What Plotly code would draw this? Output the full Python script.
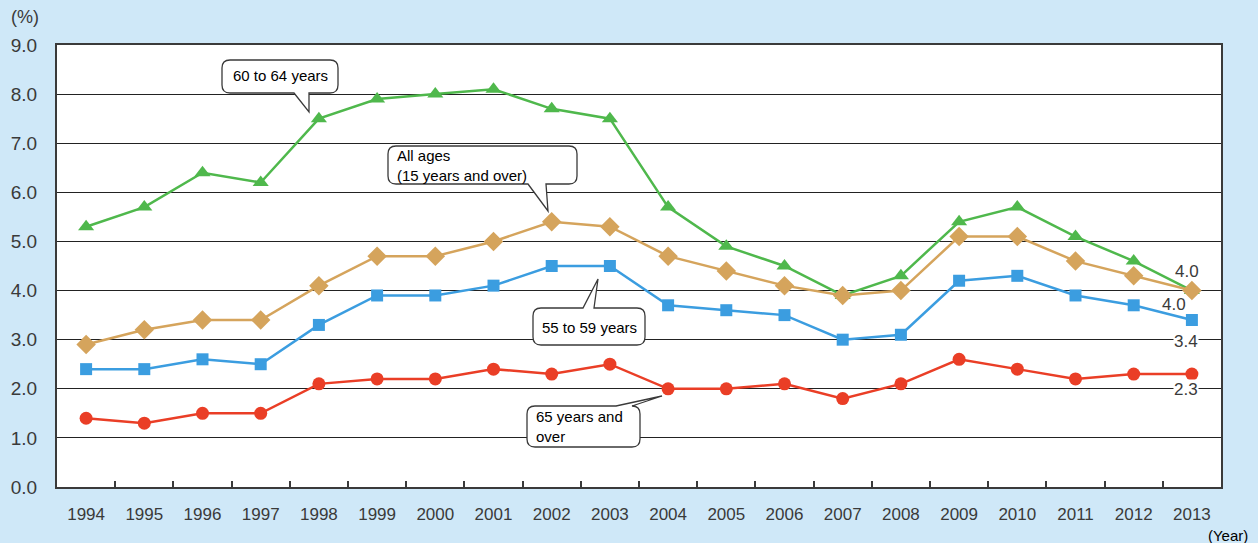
import plotly.graph_objects as go

years = list(range(1994, 2014))
age_60_64 = [5.3, 5.7, 6.4, 6.2, 7.5, 7.9, 8.0, 8.1, 7.7, 7.5, 5.7, 4.9, 4.5, 3.9, 4.3, 5.4, 5.7, 5.1, 4.6, 4.0]
all_ages = [2.9, 3.2, 3.4, 3.4, 4.1, 4.7, 4.7, 5.0, 5.4, 5.3, 4.7, 4.4, 4.1, 3.9, 4.0, 5.1, 5.1, 4.6, 4.3, 4.0]
age_55_59 = [2.4, 2.4, 2.6, 2.5, 3.3, 3.9, 3.9, 4.1, 4.5, 4.5, 3.7, 3.6, 3.5, 3.0, 3.1, 4.2, 4.3, 3.9, 3.7, 3.4]
age_65_over = [1.4, 1.3, 1.5, 1.5, 2.1, 2.2, 2.2, 2.4, 2.3, 2.5, 2.0, 2.0, 2.1, 1.8, 2.1, 2.6, 2.4, 2.2, 2.3, 2.3]
y_ticks = [0, 1, 2, 3, 4, 5, 6, 7, 8, 9]
y_tick_labels = ["0.0", "1.0", "2.0", "3.0", "4.0", "5.0", "6.0", "7.0", "8.0", "9.0"]

W, H = 1258, 543
L, R, T, B = 57, 1221, 45, 487
PW, PH = R - L, B - T

BG = "#cfe8f8"
INK = "#3a3a3a"
FONT = "Liberation Sans, Arial, sans-serif"

series = [
    ("60 to 64 years", age_60_64, "#4fb84c", "triangle-up", 14),
    ("All ages", all_ages, "#d5a45c", "diamond", 15),
    ("55 to 59 years", age_55_59, "#3b9de0", "square", 12),
    ("65 years and over", age_65_over, "#ea3e26", "circle", 13),
]

fig = go.Figure()
for name, vals, col, sym, sz in series:
    fig.add_trace(go.Scatter(
        x=years, y=vals, mode="lines+markers", name=name,
        line=dict(color=col, width=2.5),
        marker=dict(symbol=sym, size=sz, color=col),
        showlegend=False, cliponaxis=False,
    ))


def px2p(px, py):
    return (px - L) / PW, (B - py) / PH


def fmt(px, py):
    a, b = px2p(px, py)
    return f"{a:.5f},{b:.5f}"


def callout(x0, y0, x1, y1, side, t1, t2, tip, r=8):
    p = "M" + fmt(x0 + r, y0)
    if side == "top":
        p += " L" + fmt(t1, y0) + " L" + fmt(*tip) + " L" + fmt(t2, y0)
    p += " L" + fmt(x1 - r, y0) + " Q" + fmt(x1, y0) + " " + fmt(x1, y0 + r)
    p += " L" + fmt(x1, y1 - r) + " Q" + fmt(x1, y1) + " " + fmt(x1 - r, y1)
    if side == "bottom":
        p += " L" + fmt(t2, y1) + " L" + fmt(*tip) + " L" + fmt(t1, y1)
    p += " L" + fmt(x0 + r, y1) + " Q" + fmt(x0, y1) + " " + fmt(x0, y1 - r)
    p += " L" + fmt(x0, y0 + r) + " Q" + fmt(x0, y0) + " " + fmt(x0 + r, y0) + " Z"
    return dict(type="path", path=p, xref="paper", yref="paper",
                fillcolor="white", line=dict(color=INK, width=1.3), layer="above")


shapes = [
    callout(222, 60, 338, 93, "bottom", 294, 309, (309, 112)),
    callout(388, 146, 577, 184, "bottom", 528, 546, (548, 211)),
    callout(533, 308, 645, 345, "top", 583, 594, (598, 279)),
    callout(527, 406, 640, 447, "top", 616, 632, (662, 396)),
]

annotations = []


def text(px, py, s, size=15, color="black", xanchor="center", align="center", bg=None):
    a, b = px2p(px, py)
    d = dict(x=a, y=b, xref="paper", yref="paper", text=s, showarrow=False,
             xanchor=xanchor, yanchor="middle", align=align,
             font=dict(family=FONT, size=size, color=color))
    if bg:
        d["bgcolor"] = bg
        d["borderpad"] = 0
    annotations.append(d)


text(280, 76, "60 to 64 years")
text(395, 165, "All ages<br>(15 years and over)", xanchor="left", align="left")
text(589, 327, "55 to 59 years")
text(534, 426, "65 years and<br>over", xanchor="left", align="left")

text(1187, 271, "4.0", size=17, color=INK)
text(1174, 304, "4.0", size=17, color=INK)
text(1186, 341, "3.4", size=17, color=INK, bg="white")
text(1186, 389, "2.3", size=17, color=INK, bg="white")

text(25, 17, "(%)", size=18, color=INK)
text(1228, 535, "(Year)", size=15, color="black")

fig.update_layout(
    width=W, height=H, autosize=False,
    paper_bgcolor=BG, plot_bgcolor="white",
    margin=dict(l=L, r=W - R, t=T, b=H - B, pad=0),
    font=dict(family=FONT, color=INK),
    shapes=shapes, annotations=annotations,
    xaxis=dict(
        range=[1993.5, 2013.5], tickmode="array", tickvals=years,
        ticktext=[str(y) for y in years], ticks="", showgrid=False,
        showline=True, linecolor=INK, linewidth=2, mirror=True,
        tickfont=dict(size=17, color=INK), ticklabelstandoff=11,
        minor=dict(tickmode="array", tickvals=[y + 0.5 for y in years[:-1]],
                   ticks="inside", ticklen=6, tickwidth=1.5, tickcolor=INK, showgrid=False),
        zeroline=False,
    ),
    yaxis=dict(
        range=[0, 9], tickmode="array", tickvals=y_ticks, ticktext=y_tick_labels,
        ticks="", showgrid=True, gridcolor="#222222", gridwidth=1.4,
        showline=True, linecolor=INK, linewidth=2, mirror=True,
        tickfont=dict(size=19, color=INK), ticklabelstandoff=14,
        zeroline=False,
    ),
)

fig.write_html("out.html")
